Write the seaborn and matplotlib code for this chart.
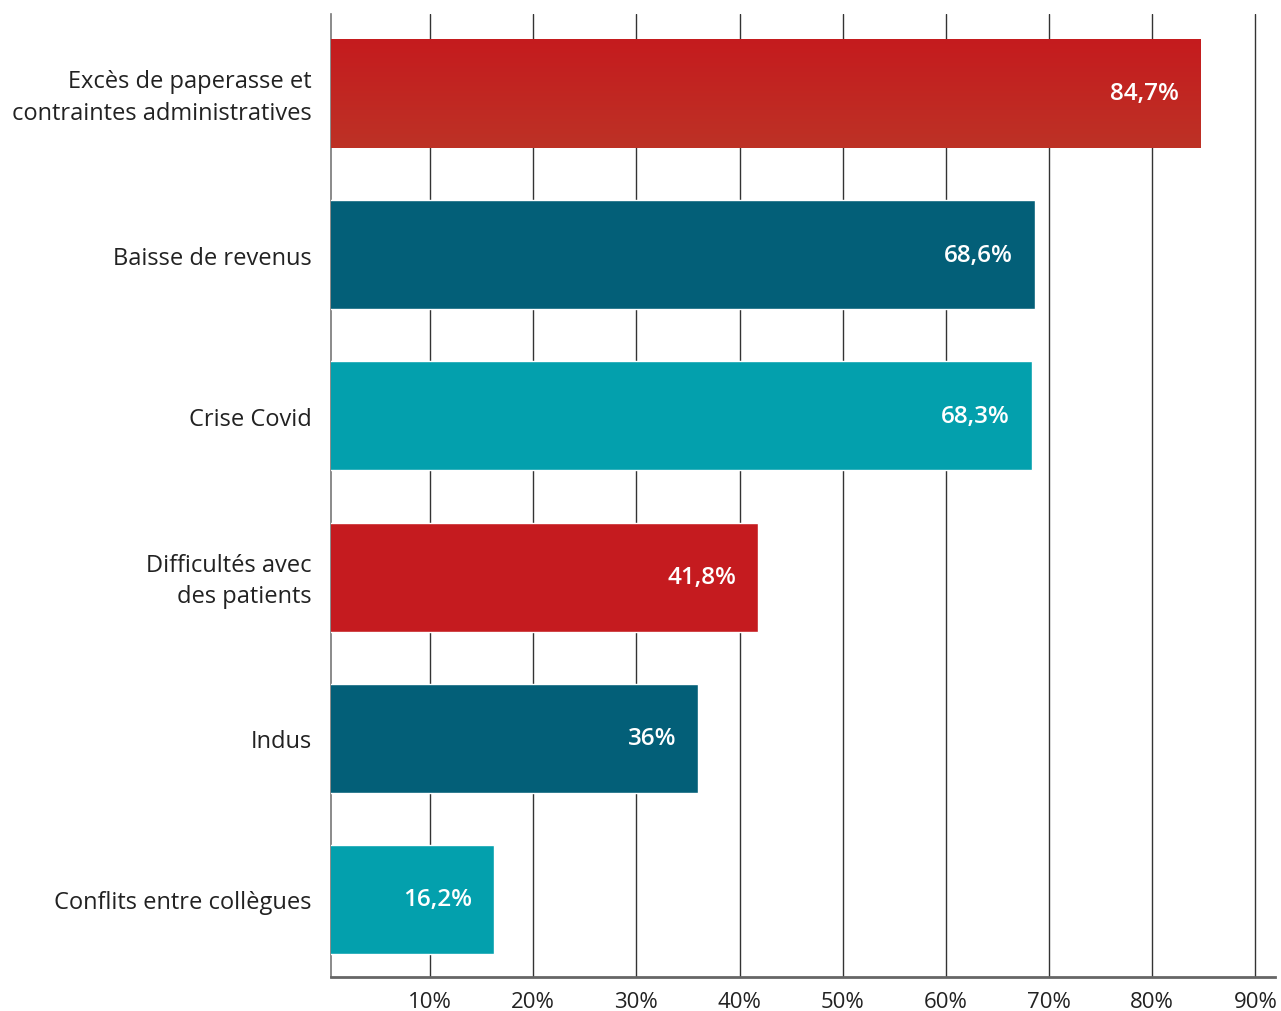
import matplotlib
matplotlib.use("Agg")
import matplotlib.pyplot as plt
import matplotlib.transforms as mtransforms
import seaborn as sns
import pandas as pd
import numpy as np
from matplotlib.colors import LinearSegmentedColormap

categories = ["Excès de paperasse et\ncontraintes administratives",
              "Baisse de revenus",
              "Crise Covid",
              "Difficultés avec\ndes patients",
              "Indus",
              "Conflits entre collègues"]
values = [84.7, 68.6, 68.3, 41.8, 36.0, 16.2]
value_labels = ["84,7%", "68,6%", "68,3%", "41,8%", "36%", "16,2%"]
colors = ["#C51B1F", "#035F78", "#03A0AD", "#C51B1F", "#035F78", "#03A0AD"]
xticks = [10, 20, 30, 40, 50, 60, 70, 80, 90]
xtick_labels = ["10%", "20%", "30%", "40%", "50%", "60%", "70%", "80%", "90%"]

sns.set_theme(style="white")
plt.rcParams['font.family'] = ['Open Sans', 'DejaVu Sans']

df = pd.DataFrame({"cat": categories, "val": values})

fig = plt.figure(figsize=(12.81, 10.12), dpi=100)
ax = fig.add_axes([331/1281, 1 - 978/1012, (1275 - 331)/1281, (978 - 15)/1012])

sns.barplot(data=df, y="cat", x="val", hue="cat", palette=colors, legend=False,
            orient="h", width=0.676, ax=ax, zorder=3, saturation=1)

XMIN = 0.4
# gradient on first bar
p0 = ax.patches[0]
p0.set_facecolor("none")
p0.set_edgecolor("none")
bx, by = p0.get_x(), p0.get_y()
bw, bh = p0.get_width(), p0.get_height()
cmap = LinearSegmentedColormap.from_list("g", ["#C51B1E", "#BD3226"])
grad = np.linspace(0, 1, 256).reshape(-1, 1)
ax.imshow(grad, cmap=cmap, aspect="auto",
          extent=[max(bx, XMIN), bx + bw, by + bh, by],
          origin="upper", zorder=3)

ax.set_xlim(XMIN, 91.9)
ax.set_ylim(5.481, -0.493)

ax.set_xticks(xticks)
ax.set_xticklabels(xtick_labels, fontsize=16, color="#222222")
ax.tick_params(axis="x", length=0, pad=10)
ax.tick_params(axis="y", length=0, pad=14)
shift = mtransforms.ScaledTranslation(0, 3/100, fig.dpi_scale_trans)
for lab in ax.get_yticklabels():
    lab.set_fontsize(17)
    lab.set_color("#222222")
    lab.set_linespacing(1.4)
    lab.set_horizontalalignment("right")
    if "\n" in lab.get_text():
        lab.set_transform(lab.get_transform() + shift)

ax.set_xlabel("")
ax.set_ylabel("")
ax.grid(axis="x", color="#333333", linewidth=1.0, zorder=0)
ax.grid(axis="y", visible=False)
ax.set_axisbelow(True)

for s in ["top", "right"]:
    ax.spines[s].set_visible(False)
ax.spines["left"].set_color("#777777")
ax.spines["left"].set_linewidth(1.2)
ax.spines["bottom"].set_color("#666666")
ax.spines["bottom"].set_linewidth(2)

for i, (v, t) in enumerate(zip(values, value_labels)):
    ax.annotate(t, xy=(v, i), xytext=(-22, 0), textcoords="offset pixels",
                ha="right", va="center", color="white", fontsize=17.5,
                fontweight="semibold", zorder=5)

fig.savefig("out.png", dpi=100)
